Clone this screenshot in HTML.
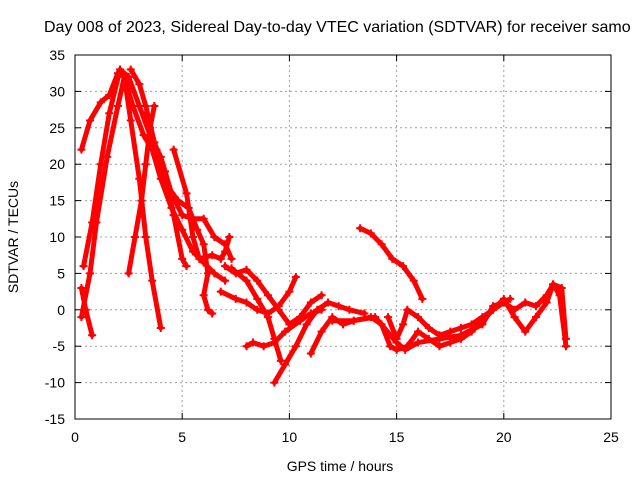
<!DOCTYPE html>
<html><head><meta charset="utf-8"><style>
body{margin:0;background:#fff}
svg{display:block;font-family:"Liberation Sans",sans-serif;font-size:13px}
</style></head><body>
<svg id="chart" width="640" height="480">
<text x="44" y="32" style="font-size:16px" fill="#000">Day 008 of 2023, Sidereal Day-to-day VTEC variation (SDTVAR) for receiver samo</text>
<g id="grid"></g>
<g id="axes"></g>
<g id="series"></g>
<text x="340" y="471" text-anchor="middle" style="font-size:14px">GPS time / hours</text>
<text transform="translate(18,237) rotate(-90)" text-anchor="middle" style="font-size:14px">SDTVAR / TECUs</text>
</svg>
<script>
const xTicks=[0,5,10,15,20,25];
const yTicks=[-15,-10,-5,0,5,10,15,20,25,30,35];
const trackA=[[0.3,22],[0.7,26],[1.2,28.5],[1.6,29.5],[2.0,32.5],[2.3,32],[2.7,28],[3.2,24],[3.6,22],[4.0,18],[4.5,14],[5.0,11],[5.5,8],[6,6.5],[6.5,5],[7,4]];
const trackB=[[0.4,6],[0.8,12],[1.2,20],[1.6,27],[2.1,33],[2.5,32],[3.0,28],[3.5,24],[4.0,21],[4.5,16],[5,13],[5.5,12.5],[6,12.5],[6.5,10],[7,9],[7.3,7]];
const trackC=[[0.3,-1],[0.7,5],[1.0,12],[1.5,21],[2.0,28],[2.3,32],[2.6,26],[3.0,18],[3.3,10],[3.6,4],[4.0,-2.5]];
const trackD=[[0.3,3],[0.5,0],[0.8,-3.5]];
const trackE=[[2.5,5],[2.8,10],[3.1,15],[3.3,20],[3.5,25],[3.7,28]];
const trackF=[[2.6,33],[3,31],[3.3,28],[3.7,23],[4.2,19],[4.6,13],[5,7],[5.2,6]];
const trackG=[[3.3,27],[3.8,22],[4.3,17],[4.8,15],[5.3,14],[5.7,11],[6,9],[6.2,5],[6.0,2],[6.2,0],[6.4,-0.5]];
const trackH=[[4.6,22],[5.2,16],[5.5,10],[5.8,7],[6.4,7.5],[6.8,7],[7.0,8],[7.2,10]];
const trackI=[[7,6],[7.5,5],[8,5.5],[8.5,4],[9,2],[9.5,0],[10,-2],[10.5,-1],[11,1],[11.5,2]];
const trackJ=[[6.8,2.5],[7.5,1.5],[8,1],[8.5,0],[9,-0.5],[9.5,0.5],[10,2.5],[10.3,4.5]];
const trackK=[[7.3,5.7],[8,4],[8.5,1.5],[9,-1],[9.3,-4],[9.6,-7]];
const trackL=[[8,-5],[8.3,-4.5],[8.8,-5],[9.3,-4.5],[9.8,-3],[10.5,-1.5],[11,-0.5],[11.5,0]];
const trackM=[[9.3,-10],[9.8,-7.5],[10.3,-5],[10.8,-2],[11.3,0],[11.8,1],[12.3,0.5],[12.8,0],[13.5,-0.5]];
const trackN=[[11,-6],[11.5,-3],[12,-1],[12.5,-2],[13,-1.5],[13.8,-1],[14.3,-2],[14.7,-5],[15,-5.5],[15.5,-5],[16,-3],[16.5,-4],[17,-5],[17.5,-4.5],[18,-4],[18.5,-3],[19,-1.5],[19.5,0],[20,1],[20.5,0],[21,1],[21.5,0.5],[22,2],[22.3,3.5],[22.6,2],[22.9,-5]];
const trackO=[[13.3,11.2],[13.8,10.5],[14.3,9],[14.8,7],[15.3,6],[15.8,4],[16.2,1.5]];
const trackP=[[14.6,-1],[15,-4],[15.3,-2],[15.5,0],[16,-1],[16.5,-2.5],[17,-3.5],[17.5,-3],[18,-2.5],[18.5,-2],[19,-1],[19.5,0],[20,1.5],[20.5,-1],[21,-3],[21.5,-1],[22,1],[22.3,3.5],[22.7,3],[22.9,-4]];
const trackQ=[[12,-1.5],[13,-1.5],[14,-1],[15,-4.5],[15.4,-5.5],[16,-4.5],[17,-4],[18,-3.5],[19,-2],[19.5,0.5],[20,1],[20.3,1.5]];
const tracks=[trackA,trackB,trackC,trackD,trackE,trackF,trackG,trackH,trackI,trackJ,trackK,trackL,trackM,trackN,trackO,trackP,trackQ];

const L=75,R=611,T=55,B=419;
const X=v=>L+(v-0)/25*(R-L);
const Y=v=>B-(v+15)/50*(B-T);
const NS="http://www.w3.org/2000/svg";
function mk(tag,attrs,parent){const e=document.createElementNS(NS,tag);for(const k in attrs)e.setAttribute(k,attrs[k]);parent.appendChild(e);return e;}
const grid=document.getElementById('grid'),axes=document.getElementById('axes'),ser=document.getElementById('series');
xTicks.forEach(t=>{
  if(t>0&&t<25){const g=mk('line',{x1:X(t),x2:X(t),y1:T,y2:B,stroke:'#a0a0a0','stroke-dasharray':'2,3'},grid);
  
  }
  mk('line',{x1:X(t),x2:X(t),y1:B,y2:B-6,stroke:'#000'},axes);
  mk('line',{x1:X(t),x2:X(t),y1:T,y2:T+6,stroke:'#000'},axes);
  const tx=mk('text',{x:X(t),y:B+23,'text-anchor':'middle',style:'font-size:14px'},axes);tx.textContent=t;
  
  
});
yTicks.forEach(t=>{
  if(t>-15&&t<35){const g=mk('line',{x1:L,x2:R,y1:Y(t),y2:Y(t),stroke:'#a0a0a0','stroke-dasharray':'2,3'},grid);
  
  }
  mk('line',{x1:L,x2:L+6,y1:Y(t),y2:Y(t),stroke:'#000'},axes);
  mk('line',{x1:R,x2:R-6,y1:Y(t),y2:Y(t),stroke:'#000'},axes);
  const tx=mk('text',{x:L-10,y:Y(t)+5,'text-anchor':'end',style:'font-size:14px'},axes);tx.textContent=t;
  
  
});
mk('rect',{x:L,y:T,width:R-L,height:B-T,fill:'none',stroke:'#000'},axes);
tracks.forEach(tr=>{
  const pl=mk('polyline',{points:tr.map(p=>X(p[0])+','+Y(p[1])).join(' '),fill:'none',stroke:'#f00','stroke-width':5,'stroke-linejoin':'round','stroke-linecap':'round'},ser);
  
  
  tr.forEach(p=>{
    const m=mk('path',{d:`M${X(p[0])-4},${Y(p[1])}h8M${X(p[0])},${Y(p[1])-4}v8`,stroke:'#f00','stroke-width':2},ser);
    
    
  });
});
</script>
</body></html>
